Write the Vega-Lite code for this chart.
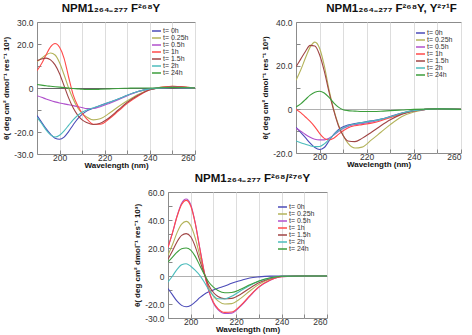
{
"$schema": "https://vega.github.io/schema/vega-lite/v6.json",
"background": "white",
"padding": {"left": 2, "top": 2, "right": 0, "bottom": 0},
"datasets": {
"p1": [
{"s":"t= 0h","x":190,"y":-12.5},{"s":"t= 0h","x":192,"y":-15.5},{"s":"t= 0h","x":194,"y":-18.5},{"s":"t= 0h","x":196,"y":-21},{"s":"t= 0h","x":198,"y":-22.8},{"s":"t= 0h","x":200,"y":-23.3},{"s":"t= 0h","x":202,"y":-22.3},{"s":"t= 0h","x":204,"y":-19.8},{"s":"t= 0h","x":206,"y":-16.8},{"s":"t= 0h","x":208,"y":-14},{"s":"t= 0h","x":210,"y":-12},{"s":"t= 0h","x":212,"y":-10.5},{"s":"t= 0h","x":215,"y":-9.2},{"s":"t= 0h","x":218,"y":-8},{"s":"t= 0h","x":222,"y":-6.5},{"s":"t= 0h","x":226,"y":-5},{"s":"t= 0h","x":230,"y":-3.3},{"s":"t= 0h","x":235,"y":-1.5},{"s":"t= 0h","x":240,"y":-0.4},{"s":"t= 0h","x":250,"y":0.3},{"s":"t= 0h","x":260,"y":0},
{"s":"t= 0.25h","x":190,"y":12},{"s":"t= 0.25h","x":192,"y":13.5},{"s":"t= 0.25h","x":194,"y":15},{"s":"t= 0.25h","x":196,"y":15.9},{"s":"t= 0.25h","x":198,"y":15},{"s":"t= 0.25h","x":200,"y":11.5},{"s":"t= 0.25h","x":202,"y":6},{"s":"t= 0.25h","x":204,"y":0},{"s":"t= 0.25h","x":206,"y":-5},{"s":"t= 0.25h","x":208,"y":-9},{"s":"t= 0.25h","x":210,"y":-11.5},{"s":"t= 0.25h","x":212,"y":-13.2},{"s":"t= 0.25h","x":215,"y":-14.5},{"s":"t= 0.25h","x":218,"y":-14},{"s":"t= 0.25h","x":222,"y":-11.5},{"s":"t= 0.25h","x":226,"y":-8.5},{"s":"t= 0.25h","x":230,"y":-5.8},{"s":"t= 0.25h","x":235,"y":-2.8},{"s":"t= 0.25h","x":240,"y":-0.7},{"s":"t= 0.25h","x":250,"y":0.8},{"s":"t= 0.25h","x":260,"y":0},
{"s":"t= 0.5h","x":190,"y":-3.5},{"s":"t= 0.5h","x":192,"y":-4.2},{"s":"t= 0.5h","x":194,"y":-5},{"s":"t= 0.5h","x":196,"y":-5.7},{"s":"t= 0.5h","x":198,"y":-6.3},{"s":"t= 0.5h","x":200,"y":-6.8},{"s":"t= 0.5h","x":202,"y":-7.2},{"s":"t= 0.5h","x":204,"y":-7.6},{"s":"t= 0.5h","x":206,"y":-8},{"s":"t= 0.5h","x":208,"y":-8.5},{"s":"t= 0.5h","x":210,"y":-8.9},{"s":"t= 0.5h","x":212,"y":-9.3},{"s":"t= 0.5h","x":215,"y":-9.3},{"s":"t= 0.5h","x":218,"y":-8.5},{"s":"t= 0.5h","x":222,"y":-7},{"s":"t= 0.5h","x":226,"y":-5.3},{"s":"t= 0.5h","x":230,"y":-3.5},{"s":"t= 0.5h","x":235,"y":-1.6},{"s":"t= 0.5h","x":240,"y":-0.4},{"s":"t= 0.5h","x":250,"y":0.3},{"s":"t= 0.5h","x":260,"y":0},
{"s":"t= 1h","x":190,"y":7.9},{"s":"t= 1h","x":192,"y":11},{"s":"t= 1h","x":194,"y":15},{"s":"t= 1h","x":196,"y":18.7},{"s":"t= 1h","x":198,"y":20.2},{"s":"t= 1h","x":200,"y":18.5},{"s":"t= 1h","x":202,"y":13.5},{"s":"t= 1h","x":204,"y":5},{"s":"t= 1h","x":206,"y":-3},{"s":"t= 1h","x":208,"y":-8},{"s":"t= 1h","x":210,"y":-11.5},{"s":"t= 1h","x":212,"y":-14},{"s":"t= 1h","x":215,"y":-16.5},{"s":"t= 1h","x":218,"y":-16.5},{"s":"t= 1h","x":222,"y":-14},{"s":"t= 1h","x":226,"y":-10.5},{"s":"t= 1h","x":230,"y":-7},{"s":"t= 1h","x":235,"y":-3.5},{"s":"t= 1h","x":240,"y":-0.8},{"s":"t= 1h","x":250,"y":0.8},{"s":"t= 1h","x":260,"y":0},
{"s":"t= 1.5h","x":190,"y":12.4},{"s":"t= 1.5h","x":192,"y":13.2},{"s":"t= 1.5h","x":194,"y":13.6},{"s":"t= 1.5h","x":196,"y":12.8},{"s":"t= 1.5h","x":198,"y":10.5},{"s":"t= 1.5h","x":200,"y":6.5},{"s":"t= 1.5h","x":202,"y":1},{"s":"t= 1.5h","x":204,"y":-4.5},{"s":"t= 1.5h","x":206,"y":-9},{"s":"t= 1.5h","x":208,"y":-12.3},{"s":"t= 1.5h","x":210,"y":-14.5},{"s":"t= 1.5h","x":212,"y":-15.7},{"s":"t= 1.5h","x":215,"y":-16.6},{"s":"t= 1.5h","x":218,"y":-16},{"s":"t= 1.5h","x":222,"y":-13.5},{"s":"t= 1.5h","x":226,"y":-10},{"s":"t= 1.5h","x":230,"y":-6.5},{"s":"t= 1.5h","x":235,"y":-3.2},{"s":"t= 1.5h","x":240,"y":-0.8},{"s":"t= 1.5h","x":250,"y":0.6},{"s":"t= 1.5h","x":260,"y":0},
{"s":"t= 2h","x":190,"y":-13.3},{"s":"t= 2h","x":192,"y":-16},{"s":"t= 2h","x":194,"y":-19},{"s":"t= 2h","x":196,"y":-21.3},{"s":"t= 2h","x":198,"y":-22.3},{"s":"t= 2h","x":200,"y":-21.5},{"s":"t= 2h","x":202,"y":-19.5},{"s":"t= 2h","x":204,"y":-17},{"s":"t= 2h","x":206,"y":-14.5},{"s":"t= 2h","x":208,"y":-12.5},{"s":"t= 2h","x":210,"y":-11},{"s":"t= 2h","x":212,"y":-10},{"s":"t= 2h","x":215,"y":-9},{"s":"t= 2h","x":218,"y":-8},{"s":"t= 2h","x":222,"y":-6.5},{"s":"t= 2h","x":226,"y":-5},{"s":"t= 2h","x":230,"y":-3.3},{"s":"t= 2h","x":235,"y":-1.5},{"s":"t= 2h","x":240,"y":-0.4},{"s":"t= 2h","x":250,"y":0.3},{"s":"t= 2h","x":260,"y":0},
{"s":"t= 24h","x":190,"y":1.6},{"s":"t= 24h","x":192,"y":1.3},{"s":"t= 24h","x":194,"y":1},{"s":"t= 24h","x":196,"y":0.8},{"s":"t= 24h","x":198,"y":0.6},{"s":"t= 24h","x":200,"y":0.4},{"s":"t= 24h","x":202,"y":0.2},{"s":"t= 24h","x":204,"y":0},{"s":"t= 24h","x":206,"y":-0.2},{"s":"t= 24h","x":208,"y":-0.4},{"s":"t= 24h","x":210,"y":-0.6},{"s":"t= 24h","x":212,"y":-0.7},{"s":"t= 24h","x":215,"y":-0.7},{"s":"t= 24h","x":218,"y":-0.6},{"s":"t= 24h","x":222,"y":-0.4},{"s":"t= 24h","x":226,"y":-0.2},{"s":"t= 24h","x":230,"y":-0.1},{"s":"t= 24h","x":235,"y":0},{"s":"t= 24h","x":240,"y":0},{"s":"t= 24h","x":250,"y":0.2},{"s":"t= 24h","x":260,"y":0}
],
"p2": [
{"s":"t= 0h","x":190,"y":-8.3},{"s":"t= 0h","x":192,"y":-10.5},{"s":"t= 0h","x":194,"y":-13},{"s":"t= 0h","x":196,"y":-15.5},{"s":"t= 0h","x":198,"y":-17.5},{"s":"t= 0h","x":200,"y":-18.4},{"s":"t= 0h","x":202,"y":-17.5},{"s":"t= 0h","x":204,"y":-14.5},{"s":"t= 0h","x":206,"y":-11.5},{"s":"t= 0h","x":208,"y":-9.3},{"s":"t= 0h","x":210,"y":-8},{"s":"t= 0h","x":212,"y":-7.2},{"s":"t= 0h","x":215,"y":-6.5},{"s":"t= 0h","x":218,"y":-6},{"s":"t= 0h","x":222,"y":-5.3},{"s":"t= 0h","x":226,"y":-4.5},{"s":"t= 0h","x":230,"y":-3.3},{"s":"t= 0h","x":235,"y":-1.7},{"s":"t= 0h","x":240,"y":-0.6},{"s":"t= 0h","x":250,"y":0.2},{"s":"t= 0h","x":260,"y":0},
{"s":"t= 0.25h","x":190,"y":13.3},{"s":"t= 0.25h","x":192,"y":18},{"s":"t= 0.25h","x":194,"y":23.5},{"s":"t= 0.25h","x":196,"y":28.5},{"s":"t= 0.25h","x":198,"y":30.8},{"s":"t= 0.25h","x":200,"y":28},{"s":"t= 0.25h","x":202,"y":20},{"s":"t= 0.25h","x":204,"y":9},{"s":"t= 0.25h","x":206,"y":0},{"s":"t= 0.25h","x":208,"y":-7},{"s":"t= 0.25h","x":210,"y":-12},{"s":"t= 0.25h","x":212,"y":-15.5},{"s":"t= 0.25h","x":215,"y":-17.7},{"s":"t= 0.25h","x":218,"y":-17.3},{"s":"t= 0.25h","x":222,"y":-14},{"s":"t= 0.25h","x":226,"y":-10.5},{"s":"t= 0.25h","x":230,"y":-7},{"s":"t= 0.25h","x":235,"y":-3.3},{"s":"t= 0.25h","x":240,"y":-1.2},{"s":"t= 0.25h","x":250,"y":0.3},{"s":"t= 0.25h","x":260,"y":0},
{"s":"t= 0.5h","x":190,"y":-8.6},{"s":"t= 0.5h","x":192,"y":-10},{"s":"t= 0.5h","x":194,"y":-11.5},{"s":"t= 0.5h","x":196,"y":-12.8},{"s":"t= 0.5h","x":198,"y":-13.7},{"s":"t= 0.5h","x":200,"y":-14},{"s":"t= 0.5h","x":202,"y":-14},{"s":"t= 0.5h","x":204,"y":-13.2},{"s":"t= 0.5h","x":206,"y":-11.8},{"s":"t= 0.5h","x":208,"y":-10.2},{"s":"t= 0.5h","x":210,"y":-8.8},{"s":"t= 0.5h","x":212,"y":-7.8},{"s":"t= 0.5h","x":215,"y":-7},{"s":"t= 0.5h","x":218,"y":-6.5},{"s":"t= 0.5h","x":222,"y":-5.8},{"s":"t= 0.5h","x":226,"y":-4.8},{"s":"t= 0.5h","x":230,"y":-3.5},{"s":"t= 0.5h","x":235,"y":-1.8},{"s":"t= 0.5h","x":240,"y":-0.6},{"s":"t= 0.5h","x":250,"y":0.2},{"s":"t= 0.5h","x":260,"y":0},
{"s":"t= 1h","x":190,"y":0},{"s":"t= 1h","x":192,"y":-1.5},{"s":"t= 1h","x":194,"y":-3.5},{"s":"t= 1h","x":196,"y":-5.5},{"s":"t= 1h","x":198,"y":-8},{"s":"t= 1h","x":200,"y":-11},{"s":"t= 1h","x":202,"y":-13.3},{"s":"t= 1h","x":204,"y":-14},{"s":"t= 1h","x":206,"y":-13.2},{"s":"t= 1h","x":208,"y":-11.5},{"s":"t= 1h","x":210,"y":-9.8},{"s":"t= 1h","x":212,"y":-8.5},{"s":"t= 1h","x":215,"y":-7.5},{"s":"t= 1h","x":218,"y":-7},{"s":"t= 1h","x":222,"y":-6.3},{"s":"t= 1h","x":226,"y":-5.2},{"s":"t= 1h","x":230,"y":-3.8},{"s":"t= 1h","x":235,"y":-2},{"s":"t= 1h","x":240,"y":-0.7},{"s":"t= 1h","x":250,"y":0.2},{"s":"t= 1h","x":260,"y":0},
{"s":"t= 1.5h","x":190,"y":19.5},{"s":"t= 1.5h","x":192,"y":23},{"s":"t= 1.5h","x":194,"y":26.5},{"s":"t= 1.5h","x":196,"y":29.3},{"s":"t= 1.5h","x":198,"y":29},{"s":"t= 1.5h","x":200,"y":25},{"s":"t= 1.5h","x":202,"y":17.5},{"s":"t= 1.5h","x":204,"y":8},{"s":"t= 1.5h","x":206,"y":-0.5},{"s":"t= 1.5h","x":208,"y":-7.5},{"s":"t= 1.5h","x":210,"y":-12},{"s":"t= 1.5h","x":212,"y":-14.5},{"s":"t= 1.5h","x":215,"y":-14.8},{"s":"t= 1.5h","x":218,"y":-13.3},{"s":"t= 1.5h","x":222,"y":-10.5},{"s":"t= 1.5h","x":226,"y":-7.5},{"s":"t= 1.5h","x":230,"y":-4.8},{"s":"t= 1.5h","x":235,"y":-2.2},{"s":"t= 1.5h","x":240,"y":-0.7},{"s":"t= 1.5h","x":250,"y":0.3},{"s":"t= 1.5h","x":260,"y":0},
{"s":"t= 2h","x":190,"y":-14.5},{"s":"t= 2h","x":192,"y":-15.3},{"s":"t= 2h","x":194,"y":-16},{"s":"t= 2h","x":196,"y":-16.7},{"s":"t= 2h","x":198,"y":-17.1},{"s":"t= 2h","x":200,"y":-17},{"s":"t= 2h","x":202,"y":-15.8},{"s":"t= 2h","x":204,"y":-13.8},{"s":"t= 2h","x":206,"y":-11.7},{"s":"t= 2h","x":208,"y":-9.8},{"s":"t= 2h","x":210,"y":-8.5},{"s":"t= 2h","x":212,"y":-7.5},{"s":"t= 2h","x":215,"y":-6.7},{"s":"t= 2h","x":218,"y":-6.1},{"s":"t= 2h","x":222,"y":-5.4},{"s":"t= 2h","x":226,"y":-4.6},{"s":"t= 2h","x":230,"y":-3.4},{"s":"t= 2h","x":235,"y":-1.7},{"s":"t= 2h","x":240,"y":-0.6},{"s":"t= 2h","x":250,"y":0.2},{"s":"t= 2h","x":260,"y":0},
{"s":"t= 24h","x":190,"y":1.1},{"s":"t= 24h","x":192,"y":2.5},{"s":"t= 24h","x":194,"y":4.5},{"s":"t= 24h","x":196,"y":6.5},{"s":"t= 24h","x":198,"y":7.8},{"s":"t= 24h","x":200,"y":8.3},{"s":"t= 24h","x":202,"y":7.5},{"s":"t= 24h","x":204,"y":5.5},{"s":"t= 24h","x":206,"y":3},{"s":"t= 24h","x":208,"y":1},{"s":"t= 24h","x":210,"y":-0.2},{"s":"t= 24h","x":212,"y":-0.6},{"s":"t= 24h","x":215,"y":-0.8},{"s":"t= 24h","x":218,"y":-1},{"s":"t= 24h","x":222,"y":-1},{"s":"t= 24h","x":226,"y":-0.9},{"s":"t= 24h","x":230,"y":-0.6},{"s":"t= 24h","x":235,"y":-0.3},{"s":"t= 24h","x":240,"y":0},{"s":"t= 24h","x":250,"y":0.2},{"s":"t= 24h","x":260,"y":0}
],
"p3": [
{"s":"t= 0h","x":190,"y":-9},{"s":"t= 0h","x":192,"y":-13.5},{"s":"t= 0h","x":194,"y":-18},{"s":"t= 0h","x":196,"y":-21},{"s":"t= 0h","x":198,"y":-22},{"s":"t= 0h","x":200,"y":-21},{"s":"t= 0h","x":202,"y":-18.5},{"s":"t= 0h","x":204,"y":-15.5},{"s":"t= 0h","x":206,"y":-13},{"s":"t= 0h","x":208,"y":-11.3},{"s":"t= 0h","x":210,"y":-10},{"s":"t= 0h","x":212,"y":-8.8},{"s":"t= 0h","x":215,"y":-7.2},{"s":"t= 0h","x":218,"y":-5.2},{"s":"t= 0h","x":222,"y":-3.2},{"s":"t= 0h","x":226,"y":-1.4},{"s":"t= 0h","x":230,"y":-0.6},{"s":"t= 0h","x":235,"y":-0.1},{"s":"t= 0h","x":240,"y":0},{"s":"t= 0h","x":250,"y":0},{"s":"t= 0h","x":260,"y":0},
{"s":"t= 0.25h","x":190,"y":15},{"s":"t= 0.25h","x":192,"y":22.5},{"s":"t= 0.25h","x":194,"y":31},{"s":"t= 0.25h","x":196,"y":37},{"s":"t= 0.25h","x":198,"y":39},{"s":"t= 0.25h","x":200,"y":36},{"s":"t= 0.25h","x":202,"y":27},{"s":"t= 0.25h","x":204,"y":14.5},{"s":"t= 0.25h","x":206,"y":1.8},{"s":"t= 0.25h","x":208,"y":-8.5},{"s":"t= 0.25h","x":210,"y":-14.5},{"s":"t= 0.25h","x":212,"y":-17.8},{"s":"t= 0.25h","x":215,"y":-20},{"s":"t= 0.25h","x":218,"y":-19.7},{"s":"t= 0.25h","x":222,"y":-16},{"s":"t= 0.25h","x":226,"y":-10.7},{"s":"t= 0.25h","x":230,"y":-6},{"s":"t= 0.25h","x":235,"y":-2.2},{"s":"t= 0.25h","x":240,"y":-0.4},{"s":"t= 0.25h","x":250,"y":0},{"s":"t= 0.25h","x":260,"y":0},
{"s":"t= 0.5h","x":190,"y":20.5},{"s":"t= 0.5h","x":192,"y":31},{"s":"t= 0.5h","x":194,"y":43},{"s":"t= 0.5h","x":196,"y":52},{"s":"t= 0.5h","x":198,"y":55},{"s":"t= 0.5h","x":200,"y":51},{"s":"t= 0.5h","x":202,"y":38},{"s":"t= 0.5h","x":204,"y":20},{"s":"t= 0.5h","x":206,"y":2.5},{"s":"t= 0.5h","x":208,"y":-11},{"s":"t= 0.5h","x":210,"y":-19.5},{"s":"t= 0.5h","x":212,"y":-24},{"s":"t= 0.5h","x":215,"y":-26.8},{"s":"t= 0.5h","x":218,"y":-26.5},{"s":"t= 0.5h","x":222,"y":-21.5},{"s":"t= 0.5h","x":226,"y":-14.5},{"s":"t= 0.5h","x":230,"y":-8},{"s":"t= 0.5h","x":235,"y":-3},{"s":"t= 0.5h","x":240,"y":-0.5},{"s":"t= 0.5h","x":250,"y":0},{"s":"t= 0.5h","x":260,"y":0},
{"s":"t= 1h","x":190,"y":20.5},{"s":"t= 1h","x":192,"y":31},{"s":"t= 1h","x":194,"y":42.5},{"s":"t= 1h","x":196,"y":51},{"s":"t= 1h","x":198,"y":54},{"s":"t= 1h","x":200,"y":50},{"s":"t= 1h","x":202,"y":37.5},{"s":"t= 1h","x":204,"y":19.5},{"s":"t= 1h","x":206,"y":2.3},{"s":"t= 1h","x":208,"y":-10.5},{"s":"t= 1h","x":210,"y":-18.8},{"s":"t= 1h","x":212,"y":-23.3},{"s":"t= 1h","x":215,"y":-26},{"s":"t= 1h","x":218,"y":-25.7},{"s":"t= 1h","x":222,"y":-21},{"s":"t= 1h","x":226,"y":-14},{"s":"t= 1h","x":230,"y":-7.8},{"s":"t= 1h","x":235,"y":-2.9},{"s":"t= 1h","x":240,"y":-0.5},{"s":"t= 1h","x":250,"y":0},{"s":"t= 1h","x":260,"y":0},
{"s":"t= 1.5h","x":190,"y":12},{"s":"t= 1.5h","x":192,"y":18},{"s":"t= 1.5h","x":194,"y":24.5},{"s":"t= 1.5h","x":196,"y":29},{"s":"t= 1.5h","x":198,"y":30.3},{"s":"t= 1.5h","x":200,"y":28},{"s":"t= 1.5h","x":202,"y":21},{"s":"t= 1.5h","x":204,"y":11},{"s":"t= 1.5h","x":206,"y":1.5},{"s":"t= 1.5h","x":208,"y":-6.8},{"s":"t= 1.5h","x":210,"y":-11.8},{"s":"t= 1.5h","x":212,"y":-14.7},{"s":"t= 1.5h","x":215,"y":-16.3},{"s":"t= 1.5h","x":218,"y":-16},{"s":"t= 1.5h","x":222,"y":-13},{"s":"t= 1.5h","x":226,"y":-8.7},{"s":"t= 1.5h","x":230,"y":-4.9},{"s":"t= 1.5h","x":235,"y":-1.8},{"s":"t= 1.5h","x":240,"y":-0.3},{"s":"t= 1.5h","x":250,"y":0},{"s":"t= 1.5h","x":260,"y":0},
{"s":"t= 2h","x":190,"y":-4.3},{"s":"t= 2h","x":192,"y":0},{"s":"t= 2h","x":194,"y":4.8},{"s":"t= 2h","x":196,"y":8},{"s":"t= 2h","x":198,"y":8.8},{"s":"t= 2h","x":200,"y":7},{"s":"t= 2h","x":202,"y":4},{"s":"t= 2h","x":204,"y":0.5},{"s":"t= 2h","x":206,"y":-4.5},{"s":"t= 2h","x":208,"y":-10},{"s":"t= 2h","x":210,"y":-14},{"s":"t= 2h","x":212,"y":-16.3},{"s":"t= 2h","x":215,"y":-16.4},{"s":"t= 2h","x":218,"y":-14.5},{"s":"t= 2h","x":222,"y":-10.5},{"s":"t= 2h","x":226,"y":-6.8},{"s":"t= 2h","x":230,"y":-3.8},{"s":"t= 2h","x":235,"y":-1.4},{"s":"t= 2h","x":240,"y":-0.2},{"s":"t= 2h","x":250,"y":0},{"s":"t= 2h","x":260,"y":0},
{"s":"t= 24h","x":190,"y":10},{"s":"t= 24h","x":192,"y":13.5},{"s":"t= 24h","x":194,"y":17},{"s":"t= 24h","x":196,"y":19.5},{"s":"t= 24h","x":198,"y":20},{"s":"t= 24h","x":200,"y":18.5},{"s":"t= 24h","x":202,"y":14},{"s":"t= 24h","x":204,"y":7.5},{"s":"t= 24h","x":206,"y":1},{"s":"t= 24h","x":208,"y":-4.5},{"s":"t= 24h","x":210,"y":-8},{"s":"t= 24h","x":212,"y":-10.3},{"s":"t= 24h","x":215,"y":-12},{"s":"t= 24h","x":218,"y":-11.8},{"s":"t= 24h","x":222,"y":-9.5},{"s":"t= 24h","x":226,"y":-6.3},{"s":"t= 24h","x":230,"y":-3.5},{"s":"t= 24h","x":235,"y":-1.3},{"s":"t= 24h","x":240,"y":-0.2},{"s":"t= 24h","x":250,"y":0},{"s":"t= 24h","x":260,"y":0}
]
},
"resolve": {"legend": {"color": "independent"}},
"spacing": 2,
"vconcat": [
{
"spacing": 65,
"resolve": {"legend": {"color": "independent"}},
"hconcat": [
{
"width": 158, "height": 132,
"title": {"text": "NPM1₂₆₄₋₂₇₇ F²⁶⁸Y", "dx": -5},
"data": {"name": "p1"},
"mark": {"type": "line", "strokeWidth": 1.1, "interpolate": "monotone", "clip": true},
"encoding": {
"x": {"field": "x", "type": "quantitative", "scale": {"domain": [190, 260], "nice": false, "zero": false}, "axis": {"values": [200, 210, 220, 230, 240, 250, 260], "labelExpr": "datum.value % 20 == 0 ? datum.value + '' : ''", "title": "Wavelength (nm)"}},
"y": {"field": "y", "type": "quantitative", "scale": {"domain": [-30, 30], "nice": false}, "axis": {"values": [-30, -20, -10, 0, 10, 20, 30], "labelExpr": "datum.value == 0 ? '0' : (datum.value % 20 == 0 || abs(datum.value) == 30 ? datum.value + '.0' : '')", "title": "θ( deg cm² dmol⁻¹ res⁻¹ 10³)", "grid": true, "gridColor": "#666", "gridOpacity": {"condition": {"test": "datum.value === 0", "value": 1}, "value": 0}}},
"color": {"field": "s", "type": "nominal", "sort": null, "scale": {"domain": ["t= 0h","t= 0.25h","t= 0.5h","t= 1h","t= 1.5h","t= 2h","t= 24h"], "range": ["#4b4bb8","#b3b35a","#b050cc","#ff4a4a","#a04545","#4cbcbc","#3c9e3c"]}, "legend": {"orient": "top-right", "offset": 6, "title": null}}
}
},
{
"width": 165, "height": 131,
"title": {"text": "NPM1₂₆₄₋₂₇₇ F²⁶⁸Y, Y²⁷¹F", "dx": 13},
"data": {"name": "p2"},
"mark": {"type": "line", "strokeWidth": 1.1, "interpolate": "monotone", "clip": true},
"encoding": {
"x": {"field": "x", "type": "quantitative", "scale": {"domain": [190, 260], "nice": false, "zero": false}, "axis": {"values": [200, 210, 220, 230, 240, 250, 260], "labelExpr": "datum.value % 20 == 0 ? datum.value + '' : ''", "title": "Wavelength (nm)"}},
"y": {"field": "y", "type": "quantitative", "scale": {"domain": [-20, 40], "nice": false}, "axis": {"values": [-20, -10, 0, 10, 20, 30, 40], "labelExpr": "datum.value == 0 ? '0' : (datum.value % 20 == 0 ? datum.value + '.0' : '')", "title": "θ( deg cm² dmol⁻¹ res⁻¹ 10³)", "grid": true, "gridColor": "#b0b0b0", "gridOpacity": {"condition": {"test": "datum.value === 0", "value": 1}, "value": 0}}},
"color": {"field": "s", "type": "nominal", "sort": null, "scale": {"domain": ["t= 0h","t= 0.25h","t= 0.5h","t= 1h","t= 1.5h","t= 2h","t= 24h"], "range": ["#4b4bb8","#b3b35a","#b050cc","#ff4a4a","#a04545","#4cbcbc","#3c9e3c"]}, "legend": {"orient": "top-right", "offset": 8, "title": null}}
}
}
]
},
{
"spacing": 0,
"resolve": {"legend": {"color": "independent"}},
"hconcat": [
{
"width": 96, "height": 10,
"view": {"stroke": null},
"data": {"values": [{}]},
"mark": {"type": "point", "opacity": 0}
},
{
"width": 159, "height": 126,
"title": {"text": "NPM1₂₆₄₋₂₇₇ F²⁶⁸/²⁷⁶Y", "dx": 5},
"data": {"name": "p3"},
"mark": {"type": "line", "strokeWidth": 1.1, "interpolate": "monotone", "clip": true},
"encoding": {
"x": {"field": "x", "type": "quantitative", "scale": {"domain": [190, 260], "nice": false, "zero": false}, "axis": {"values": [200, 210, 220, 230, 240, 250, 260], "labelExpr": "datum.value % 20 == 0 ? datum.value + '' : ''", "title": "Wavelength (nm)"}},
"y": {"field": "y", "type": "quantitative", "scale": {"domain": [-30, 60], "nice": false}, "axis": {"values": [-30, -20, -10, 0, 10, 20, 30, 40, 50, 60], "labelExpr": "datum.value == 0 ? '0' : (datum.value % 20 == 0 || datum.value == -30 ? datum.value + '.0' : '')", "title": "θ( deg cm² dmol⁻¹ res⁻¹ 10³)", "grid": true, "gridColor": "#b0b0b0", "gridOpacity": {"condition": {"test": "datum.value === 0", "value": 1}, "value": 0}}},
"color": {"field": "s", "type": "nominal", "sort": null, "scale": {"domain": ["t= 0h","t= 0.25h","t= 0.5h","t= 1h","t= 1.5h","t= 2h","t= 24h"], "range": ["#4b4bb8","#b3b35a","#b050cc","#ff4a4a","#a04545","#4cbcbc","#3c9e3c"]}, "legend": {"orient": "top-right", "offset": 12, "title": null}}
}
}
]
}
],
"config": {
"font": "Liberation Sans",
"view": {"stroke": "#8c8c8c", "strokeWidth": 1},
"axis": {"labelFontSize": 8.5, "labelColor": "#333", "titleFontSize": 8, "titleFontWeight": "bold", "titleColor": "#111", "domain": false, "tickColor": "#888", "tickSize": -4, "labelPadding": 8, "titlePadding": 3},
"axisX": {"labelPadding": 3, "titlePadding": 0},
"legend": {"symbolType": "M-2,0H2", "symbolStrokeWidth": 1.5, "symbolSize": 30, "clipHeight": 6, "labelFontSize": 7, "labelColor": "#333", "rowPadding": 0, "labelOffset": 4, "padding": 0},
"title": {"fontSize": 11.5, "fontWeight": "bold", "color": "#111", "offset": 4}
}
}
